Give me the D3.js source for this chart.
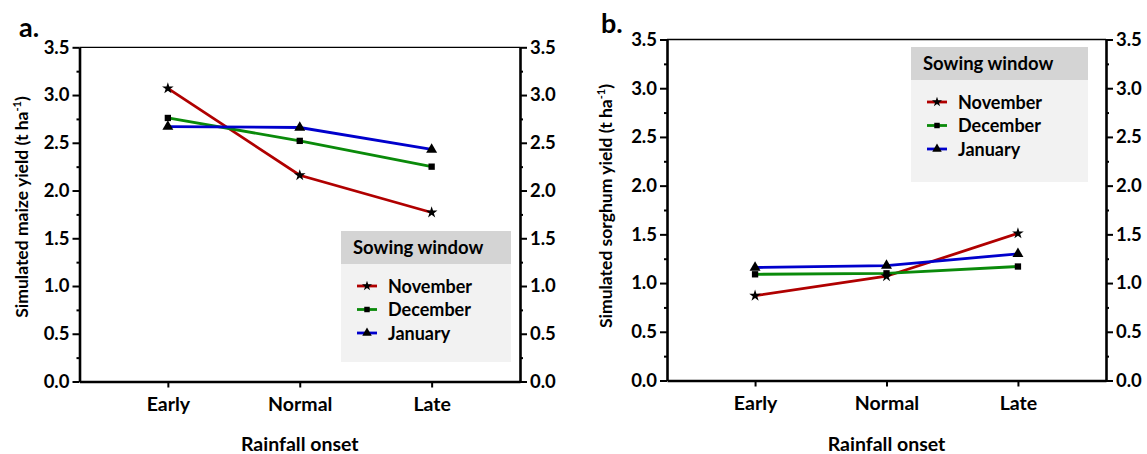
<!DOCTYPE html>
<html>
<head>
<meta charset="utf-8">
<script src="https://cdn.jsdelivr.net/npm/d3@7"></script>
<style>
  body { margin: 0; background: #fff; }
  svg text { font-family: Lato, "Open Sans", sans-serif; font-weight: bold; fill: #000; }
</style>
</head>
<body>
<svg id="chart" width="1147" height="454"></svg>
<script>
// categories
const onsets = ["Early", "Normal", "Late"];
const windows = ["November", "December", "January"];
const yTicks = [0, 0.5, 1, 1.5, 2, 2.5, 3, 3.5];
const yMinor = [0.25, 0.75, 1.25, 1.75, 2.25, 2.75, 3.25];

// maize (panel a), t/ha
const maizeNov = [3.07, 2.16, 1.77];
const maizeDec = [2.76, 2.52, 2.25];
const maizeJan = [2.67, 2.66, 2.43];

// sorghum (panel b), t/ha
const sorgNov = [0.87, 1.07, 1.51];
const sorgDec = [1.09, 1.10, 1.17];
const sorgJan = [1.16, 1.18, 1.30];

const colors = ["#b00000", "#0a8a0a", "#0000cc"];
const symbols = [d3.symbolStar, d3.symbolSquare, d3.symbolTriangle];
const symSize = [42, 40, 52];

const svg = d3.select("#chart");

function panel(opt) {
  let g = svg.append("g");
  let x = d3.scalePoint().domain(onsets).range([opt.x0, opt.x1]).padding(0.67);
  let y = d3.scaleLinear().domain([0, 3.5]).range([opt.y1, opt.y0]);

  // top frame line
  g.append("line")
    .attr("x1", opt.x0).attr("x2", opt.x1)
    .attr("y1", opt.y0).attr("y2", opt.y0)
    .attr("stroke", "#000").attr("stroke-width", 1.3);

  // minor ticks
  g.append("g").attr("transform", `translate(${opt.x0},0)`)
    .call(d3.axisLeft(y).tickValues(yMinor).tickSize(3).tickFormat(""))
    .call(a => a.select(".domain").remove())
    .selectAll("line").attr("stroke-width", 2);
  g.append("g").attr("transform", `translate(${opt.x1},0)`)
    .call(d3.axisRight(y).tickValues(yMinor).tickSize(3).tickFormat(""))
    .call(a => a.select(".domain").remove())
    .selectAll("line").attr("stroke-width", 2);

  // left axis
  let left = g.append("g").attr("transform", `translate(${opt.x0},0)`)
    .call(d3.axisLeft(y).tickValues(yTicks).tickSize(7).tickSizeOuter(0).tickPadding(3).tickFormat(d3.format(".1f")));
  // right axis
  let right = g.append("g").attr("transform", `translate(${opt.x1},0)`)
    .call(d3.axisRight(y).tickValues(yTicks).tickSize(7).tickSizeOuter(0).tickPadding(3).tickFormat(d3.format(".1f")));
  // bottom axis
  let bottom = g.append("g").attr("transform", `translate(0,${opt.y1})`)
    .call(d3.axisBottom(x).tickSize(6).tickSizeOuter(0).tickPadding(10));

  [left, right, bottom].forEach(a => {
    a.select(".domain").attr("stroke-width", 2.6);
    a.selectAll(".tick line").attr("stroke-width", 2);
    a.selectAll("text").attr("font-size", 18.5).attr("font-family", "Lato, sans-serif").attr("font-weight", "bold");
  });
  bottom.selectAll("text").attr("font-size", 19.5);

  // lines
  let line = d3.line().x((d, i) => x(onsets[i])).y(d => y(d));
  opt.series.forEach((s, k) => {
    g.append("path").datum(s)
      .attr("d", line)
      .attr("fill", "none")
      .attr("stroke", colors[k])
      .attr("stroke-width", 2.8);
  });
  opt.series.forEach((s, k) => {
    g.append("g").selectAll("path").data(s).enter().append("path")
      .attr("transform", (d, i) => `translate(${x(onsets[i])},${y(d)})`)
      .attr("d", d3.symbol().type(symbols[k]).size(symSize[k]))
      .attr("fill", "#000");
  });

  // axis titles
  g.append("text")
    .attr("x", (opt.x0 + opt.x1) / 2).attr("y", 451)
    .attr("text-anchor", "middle").attr("font-size", 19.5)
    .text("Rainfall onset");

  let yt = g.append("text")
    .attr("transform", `translate(${opt.ylabX},${opt.ylabY}) rotate(-90)`)
    .attr("text-anchor", "middle").attr("font-size", 17.5);
  yt.append("tspan").text(opt.ylab + " (t ha");
  yt.append("tspan").attr("font-size", 11).attr("dy", -7).text("-1");
  yt.append("tspan").attr("dy", 7).text(")");

  // panel letter
  g.append("text")
    .attr("x", opt.lx).attr("y", opt.ly)
    .attr("font-size", 27)
    .text(opt.letter);

  // legend
  let L = opt.legend;
  g.append("rect")
    .attr("x", L.x).attr("y", L.y).attr("width", L.w).attr("height", 33)
    .attr("fill", "#d4d4d4");
  g.append("rect")
    .attr("x", L.x).attr("y", L.y + 33).attr("width", L.w).attr("height", L.h - 33)
    .attr("fill", "#f2f2f2");
  g.append("text")
    .attr("x", L.x + 12).attr("y", L.y + 23)
    .attr("font-size", 18.5)
    .text("Sowing window");
  windows.forEach((w, k) => {
    let cy = L.y + 55 + k * 23.5;
    g.append("line")
      .attr("x1", L.x + 16).attr("x2", L.x + 36)
      .attr("y1", cy).attr("y2", cy)
      .attr("stroke", colors[k]).attr("stroke-width", 2.8);
    g.append("path")
      .attr("transform", `translate(${L.x + 26},${cy})`)
      .attr("d", d3.symbol().type(symbols[k]).size(symSize[k] * 0.75))
      .attr("fill", "#000");
    g.append("text")
      .attr("x", L.x + 47).attr("y", cy + 6.5)
      .attr("font-size", 18)
      .text(w);
  });
}

panel({
  x0: 79.5, x1: 520, y0: 47.3, y1: 381.5,
  series: [maizeNov, maizeDec, maizeJan],
  ylab: "Simulated maize yield", ylabX: 28, ylabY: 207,
  letter: "a.", lx: 19, ly: 37,
  legend: { x: 341, y: 231, w: 170, h: 131 }
});

panel({
  x0: 667, x1: 1106, y0: 39.5, y1: 380.5,
  series: [sorgNov, sorgDec, sorgJan],
  ylab: "Simulated sorghum yield", ylabX: 612, ylabY: 206,
  letter: "b.", lx: 601, ly: 33,
  legend: { x: 911, y: 47, w: 177, h: 135 }
});
</script>
</body>
</html>
